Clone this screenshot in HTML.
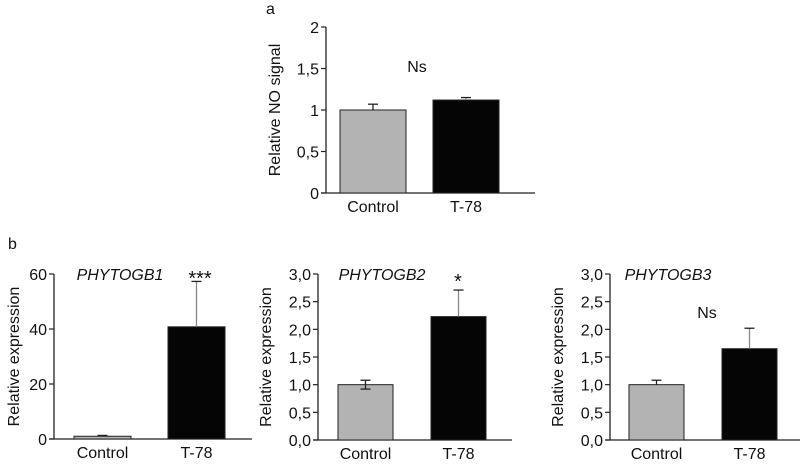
<!DOCTYPE html>
<html><head><meta charset="utf-8"><style>
body{margin:0;background:#fff;width:800px;height:459px;overflow:hidden;font-family:"Liberation Sans",Arial,sans-serif}
svg text{font-family:"Liberation Sans",Arial,sans-serif;fill:#111}
</style></head><body>
<svg id="fig" width="800" height="459" viewBox="0 0 800 459" xmlns="http://www.w3.org/2000/svg"></svg>
<script>
const categories = ["Control", "T-78"];
const panelAValues = [1.0, 1.12];
const panelAErrors = [0.07, 0.03];
const panelATicks = ["0", "0,5", "1", "1,5", "2"];
const b1Values = [1.0, 40.8];
const b1Errors = [0.3, 16.5];
const b1Ticks = ["0", "20", "40", "60"];
const b2Values = [1.0, 2.23];
const b2Errors = [0.08, 0.48];
const b2Ticks = ["0,0", "0,5", "1,0", "1,5", "2,0", "2,5", "3,0"];
const b3Values = [1.0, 1.65];
const b3Errors = [0.08, 0.37];
const b3Ticks = ["0,0", "0,5", "1,0", "1,5", "2,0", "2,5", "3,0"];

const NS = "http://www.w3.org/2000/svg";
const svg = document.getElementById("fig");
function mk(tag, attrs, parent) {
  const e = document.createElementNS(NS, tag);
  for (const k in attrs) e.setAttribute(k, attrs[k]);
  (parent || svg).appendChild(e);
  return e;
}
function panel(cfg) {
  const g = mk("g", {});
  
  
  const ymax = cfg.ymax;
  const y = v => cfg.y0 - (v / ymax) * (cfg.y0 - cfg.yTop);
  const ax = mk("line", {x1: cfg.ax, y1: cfg.yTop, x2: cfg.ax, y2: cfg.y0, stroke: "#222", "stroke-width": 1.3}, g);
  
  
  const xl = mk("line", {x1: cfg.ax - 5, y1: cfg.y0, x2: cfg.axEnd, y2: cfg.y0, stroke: "#222", "stroke-width": 1.3}, g);
  
  
  const n = cfg.ticks.length;
  cfg.ticks.forEach((t, i) => {
    const v = ymax * i / (n - 1);
    const yy = y(v);
    const tk = mk("line", {x1: cfg.ax - 5, y1: yy, x2: cfg.ax, y2: yy, stroke: "#222", "stroke-width": 1.2}, g);
    
    
    const tx = mk("text", {x: cfg.ax - 7, y: yy + 6, "text-anchor": "end", "font-size": 16}, g);
    tx.textContent = t;
    
    
  });
  const yt = mk("text", {x: 0, y: 0, "text-anchor": "middle", "font-size": 16,
    transform: `translate(${cfg.titleX},${(cfg.y0 + cfg.yTop) / 2}) rotate(-90)`}, g);
  yt.textContent = cfg.yTitle;
  
  
  cfg.values.forEach((v, i) => {
    const x0 = cfg.barX[i], w = cfg.barW;
    const top = y(v);
    const b = mk("rect", {x: x0, y: top, width: w, height: cfg.y0 - top,
      fill: i === 0 ? "#b3b3b3" : "#050505", stroke: "#222", "stroke-width": 1}, g);
    
    
    const cx = x0 + w / 2;
    const et = y(v + cfg.errors[i]);
    const eb = i === 0 && cfg.lowerErr ? y(v - cfg.errors[i]) : top;
    const el = mk("line", {x1: cx, y1: et, x2: cx, y2: eb, stroke: i === 0 ? "#222" : "#888", "stroke-width": 1.3}, g);
    
    
    const cap = mk("line", {x1: cx - 5, y1: et, x2: cx + 5, y2: et, stroke: "#222", "stroke-width": 1.3}, g);
    
    
    if (i === 0 && cfg.lowerErr) {
      const cap2 = mk("line", {x1: cx - 5, y1: eb, x2: cx + 5, y2: eb, stroke: "#222", "stroke-width": 1.3}, g);
      
      
    }
    const lb = mk("text", {x: cx, y: cfg.y0 + 19, "text-anchor": "middle", "font-size": 16}, g);
    lb.textContent = categories[i];
    
    
  });
  if (cfg.gene) {
    const gt = mk("text", {x: cfg.geneX, y: cfg.yTop + 6, "text-anchor": "middle", "font-size": 16, "font-style": "italic"}, g);
    gt.textContent = cfg.gene;
    
    
  }
  if (cfg.sig) {
    const st = mk("text", {x: cfg.sigX, y: cfg.sigY, "text-anchor": "middle", "font-size": cfg.sig === "Ns" ? 16 : 20}, g);
    st.textContent = cfg.sig;
    
    
  }
}
const la = mk("text", {x: 266, y: 14, "font-size": 16}); la.textContent = "a";


const lbb = mk("text", {x: 8, y: 249, "font-size": 16}); lbb.textContent = "b";



panel({name: "panel-a", ax: 326, axEnd: 535, y0: 193, yTop: 27, ymax: 2, ticks: panelATicks,
  values: panelAValues, errors: panelAErrors, barX: [340, 433], barW: 66, titleX: 280,
  yTitle: "Relative NO signal", sig: "Ns", sigX: 417, sigY: 72});
panel({name: "panel-b1", ax: 54, axEnd: 252, y0: 439, yTop: 274, ymax: 60, ticks: b1Ticks,
  values: b1Values, errors: b1Errors, barX: [74, 168], barW: 57, titleX: 19,
  yTitle: "Relative expression", gene: "PHYTOGB1", geneX: 120, sig: "***", sigX: 200, sigY: 285});
panel({name: "panel-b2", ax: 318, axEnd: 512, y0: 440, yTop: 274, ymax: 3, ticks: b2Ticks,
  values: b2Values, errors: b2Errors, barX: [338, 431], barW: 55, titleX: 271, lowerErr: true,
  yTitle: "Relative expression", gene: "PHYTOGB2", geneX: 382, sig: "*", sigX: 458, sigY: 288});
panel({name: "panel-b3", ax: 610, axEnd: 800, y0: 440, yTop: 274, ymax: 3, ticks: b3Ticks,
  values: b3Values, errors: b3Errors, barX: [629, 722], barW: 55, titleX: 563,
  yTitle: "Relative expression", gene: "PHYTOGB3", geneX: 668, sig: "Ns", sigX: 707, sigY: 318});
</script>
</body></html>
